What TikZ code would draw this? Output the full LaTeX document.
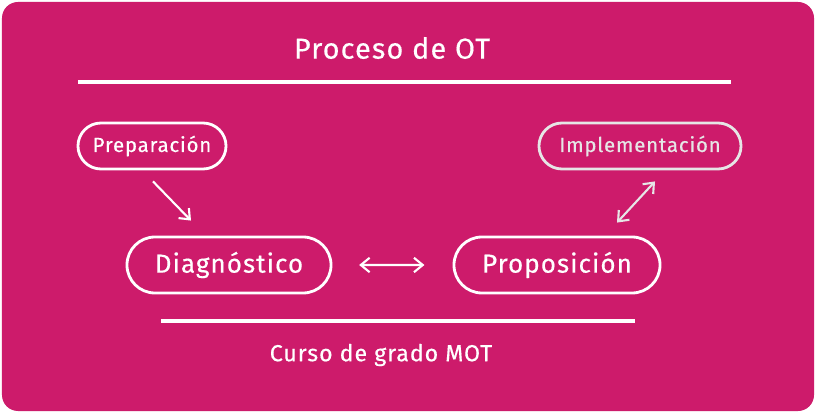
\documentclass[tikz,border=0pt]{standalone}
\usepackage{xcolor}
\usepackage{fontspec}
\setmainfont{Fira Sans}[LetterSpace=4, FakeBold=0.4]
\usepackage{tikz}
\usetikzlibrary{shapes.misc, arrows.meta, calc}

\definecolor{otpink}{HTML}{CD1B6B}
\definecolor{otgray}{HTML}{E6E6E6}

\tikzset{
    pill/.style={draw=white, line width=2pt, rounded rectangle, text=white,
    inner sep=0pt},
    smallpill/.style={pill, minimum height=1.15cm, font=\fontsize{14.5}{16}\selectfont},
    bigpill/.style={pill, minimum height=1.4cm, font=\fontsize{18.5}{21}\selectfont},
    link/.style={draw=white, line width=1.5pt, -{Straight Barb[length=2.2mm, width=3.6mm]}},
    rule/.style={draw=white, line width=2.2pt}
}

\begin{document}
\begin{tikzpicture}[x=0.025cm, y=-0.025cm]
    \useasboundingbox (0,0) rectangle (816,413);
    \fill[white] (0,0) rectangle (816,413);
    \fill[otpink, rounded corners=0.4cm] (2,2) rectangle (814,411);

    \node[text=white, font=\fontsize{20.5}{24}\selectfont] (title) at (392,48) {Proceso de OT};
    \draw[rule] (78,82) -- (731,82);

    \node[smallpill, minimum width=3.7cm] (prep) at (152,146) {Preparación};
    \node[smallpill, minimum width=5.05cm, draw=otgray, text=otgray] (impl) at (640,146) {Implementación};
    \node[bigpill, minimum width=5.1cm] (diag) at (229,265) {Diagnóstico};
    \node[bigpill, minimum width=5.15cm] (prop) at (557,265) {Proposición};

    \draw[link] ($(prep.south)+(1,11)$) -- ($(diag.north)+(-38,-15)$);
    \draw[link, draw=otgray, {Straight Barb[length=2.2mm, width=3.6mm]}-{Straight Barb[length=2.2mm, width=3.6mm]}]
        ($(prop.north)+(60,-13)$) -- ($(impl.south)+(15,11)$);
    \draw[link, {Straight Barb[length=2.2mm, width=3.6mm]}-{Straight Barb[length=2.2mm, width=3.6mm]},
        shorten <=19pt, shorten >=20pt] (diag) -- (prop);

    \draw[rule] (161,321) -- (635,321);
    \node[text=white, font=\fontsize{16.5}{20}\selectfont] (course) at (381,355) {Curso de grado MOT};
\end{tikzpicture}
\end{document}
